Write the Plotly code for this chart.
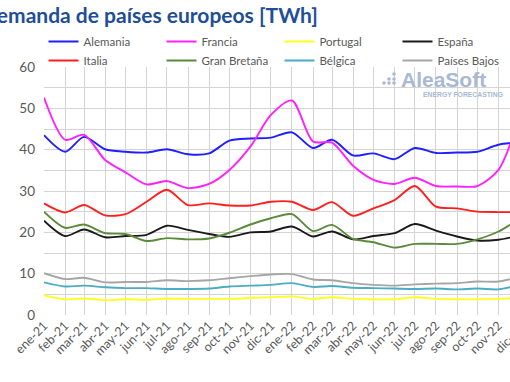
import plotly.graph_objects as go

months = ["2021-01-01", "2021-02-01", "2021-03-01", "2021-04-01", "2021-05-01", "2021-06-01",
          "2021-07-01", "2021-08-01", "2021-09-01", "2021-10-01", "2021-11-01", "2021-12-01",
          "2022-01-01", "2022-02-01", "2022-03-01", "2022-04-01", "2022-05-01", "2022-06-01",
          "2022-07-01", "2022-08-01", "2022-09-01", "2022-10-01", "2022-11-01", "2022-12-01"]
tick_labels = ["ene-21", "feb-21", "mar-21", "abr-21", "may-21", "jun-21", "jul-21", "ago-21",
               "sep-21", "oct-21", "nov-21", "dic-21", "ene-22", "feb-22", "mar-22", "abr-22",
               "may-22", "jun-22", "jul-22", "ago-22", "sep-22", "oct-22", "nov-22", "dic-22"]

alemania = [43.5, 39.5, 43.1, 40.1, 39.5, 39.3, 40.1, 38.9, 39.1, 42.2, 42.7, 42.9,
            44.2, 40.4, 42.4, 38.6, 39.1, 37.7, 40.4, 39.2, 39.3, 39.5, 41.2, 41.8]
francia = [52.6, 42.4, 43.6, 37.5, 34.5, 31.6, 32.4, 30.7, 31.7, 35.1, 40.8, 48.4,
           51.9, 42.0, 41.7, 36.1, 32.7, 31.7, 33.2, 31.2, 31.1, 31.2, 35.1, 47.5]
portugal = [4.8, 3.8, 4.0, 3.6, 3.8, 3.7, 4.0, 3.9, 3.9, 3.9, 4.1, 4.3,
            4.5, 3.9, 4.3, 3.9, 3.8, 3.8, 4.3, 3.9, 3.8, 3.8, 3.9, 4.2]
espana = [22.8, 19.1, 20.7, 18.8, 19.1, 19.4, 21.6, 20.6, 19.6, 18.9, 20.0, 20.2,
          21.4, 19.0, 20.2, 18.3, 19.1, 19.8, 22.0, 20.4, 19.0, 18.0, 18.2, 19.2]
italia = [27.0, 24.8, 26.6, 24.1, 24.4, 27.4, 30.3, 26.6, 27.0, 26.5, 26.5, 27.4,
          27.4, 25.4, 27.3, 24.0, 25.8, 27.8, 31.2, 26.2, 25.8, 25.0, 24.9, 24.9]
gran_bretana = [25.0, 21.1, 21.9, 19.8, 19.6, 17.9, 18.6, 18.3, 18.5, 19.9, 21.9, 23.4,
                24.4, 20.3, 21.8, 18.4, 17.6, 16.3, 17.2, 17.2, 17.2, 18.3, 20.2, 23.2]
belgica = [7.9, 6.9, 7.1, 6.7, 6.5, 6.5, 6.3, 6.3, 6.4, 6.9, 7.1, 7.3,
           7.7, 6.8, 7.0, 6.6, 6.5, 6.4, 6.3, 6.4, 6.2, 6.4, 6.2, 7.2]
paises_bajos = [10.1, 8.7, 9.0, 7.9, 8.0, 8.0, 8.4, 8.2, 8.4, 8.9, 9.4, 9.8,
                9.9, 8.6, 8.4, 7.7, 7.3, 7.1, 7.4, 7.6, 7.7, 8.1, 8.1, 9.2]

series = [
    ("Alemania", alemania, "#1f1fff"),
    ("Francia", francia, "#ff1fff"),
    ("Portugal", portugal, "#ffff1f"),
    ("España", espana, "#1a1a1a"),
    ("Italia", italia, "#ff1f1f"),
    ("Gran Bretaña", gran_bretana, "#5b8a3a"),
    ("Bélgica", belgica, "#4bacc6"),
    ("Países Bajos", paises_bajos, "#a6a6a6"),
]

FONT = "Lato"
GRAY = "#595959"
GRID = "#d4d4d4"

fig = go.Figure()
for name, vals, col in series:
    fig.add_trace(go.Scatter(x=months, y=vals, name=name, mode="lines",
                             line=dict(color=col, width=1.9, shape="spline", smoothing=0.8)))

W, H = 510, 382
L, R, T, B = 44, 0, 67, 67
pw = W - L - R
ph = H - T - B

def px(x):
    return (x - L) / pw

def py(y):
    return (H - B - y) / ph

fig.update_layout(
    width=W, height=H,
    margin=dict(l=L, r=R, t=T, b=B, autoexpand=False),
    paper_bgcolor="white", plot_bgcolor="white",
    font=dict(family=FONT, color=GRAY, size=12),
    showlegend=True,
    legend=dict(orientation="h", x=px(43.5), xanchor="left", y=py(27), yanchor="top",
                entrywidth=73, entrywidthmode="pixels", font=dict(size=11.5, color=GRAY),
                itemwidth=30, tracegroupgap=0, bgcolor="rgba(0,0,0,0)"),
    xaxis=dict(range=["2021-01-01", "2022-11-18"], tickvals=months, ticktext=tick_labels,
               tickangle=-45, showgrid=True, gridcolor=GRID, gridwidth=1, automargin=False,
               zeroline=False, showline=False, ticks="", tickfont=dict(size=12.5, color=GRAY)),
    yaxis=dict(range=[0, 60], dtick=10, showgrid=True, gridcolor=GRID, gridwidth=1,
               minor=dict(dtick=5, showgrid=True, gridcolor=GRID, gridwidth=1),
               zeroline=False, showline=False, ticks="", ticklabelstandoff=8, automargin=False,
               tickfont=dict(size=13.5, color=GRAY)),
)

# Title (clipped at left edge like the reference)
fig.add_annotation(text="<b>Demanda de países europeos [TWh]</b>", xref="paper", yref="paper",
                   x=px(320), y=py(14), xanchor="right", yanchor="middle", showarrow=False,
                   font=dict(family=FONT, size=21, color="#1f4e99"))

# Out-of-view last tick label, partially clipped
fig.add_annotation(text="dic-22", xref="paper", yref="paper", x=px(530), y=py(318),
                   xanchor="right", yanchor="top", textangle=-45, showarrow=False,
                   font=dict(family=FONT, size=12.5, color=GRAY))

# Watermark logo
fig.add_annotation(text="<b>AleaSoft</b>", xref="paper", yref="paper", x=px(399), y=py(80),
                   xanchor="left", yanchor="middle", showarrow=False,
                   font=dict(family="Liberation Sans", size=21, color="#a9b9d3"))
fig.add_annotation(text="<b>ENERGY FORECASTING</b>", xref="paper", yref="paper", x=px(421), y=py(94),
                   xanchor="left", yanchor="middle", showarrow=False,
                   font=dict(family="Liberation Sans", size=6.8, color="#a9b9d3"))
dots = [(384, 83), (389, 79), (389, 83), (394, 74), (394, 79), (394, 83)]
for cx, cy in dots:
    fig.add_shape(type="circle", xref="paper", yref="paper",
                  x0=px(cx - 1.8), x1=px(cx + 1.8), y0=py(cy + 1.8), y1=py(cy - 1.8),
                  fillcolor="#a9b9d3", line=dict(width=0), layer="above")

fig.write_html("out.html", config={"displayModeBar": False},
               post_script="document.body.style.margin='0';document.body.style.overflow='hidden';")
